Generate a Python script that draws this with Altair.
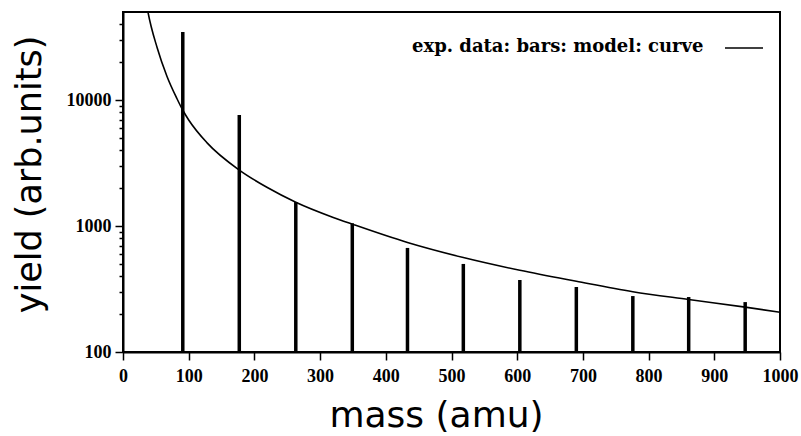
import altair as alt
import pandas as pd

# experimental data (bars)
bar_mass = [91, 177, 263, 349, 433, 518, 604, 690, 776, 861, 947]
bar_yield = [34700, 7600, 1550, 1050, 670, 500, 373, 328, 278, 273, 249]

# model curve
curve_mass = [30, 38, 52, 67, 82, 91, 100, 128, 177, 219, 263, 320, 349, 433, 518, 604, 690, 776, 861, 947, 1000]
curve_yield = [90000, 50000, 26000, 15400, 10300, 8300, 6950, 4570, 2780, 2030, 1545, 1170, 1035, 740, 562, 445, 364, 301, 261, 227, 207]

x_ticks = [0, 100, 200, 300, 400, 500, 600, 700, 800, 900, 1000]
y_ticks = [100, 1000, 10000]
y_minor = [200, 300, 400, 500, 600, 700, 800, 900,
           2000, 3000, 4000, 5000, 6000, 7000, 8000, 9000,
           20000, 30000, 40000]

x_title = "mass (amu)"
y_title = "yield (arb.units)"
legend_label = "exp. data: bars: model: curve"

bars_df = pd.DataFrame({"mass": bar_mass, "yield": bar_yield})
curve_df = pd.DataFrame({"mass": curve_mass, "yield": curve_yield})

xscale = alt.Scale(domain=[0, 1000], nice=False, zero=False)
yscale = alt.Scale(type="log", domain=[100, 50000], nice=False)

tick_font = "Liberation Serif"
title_font = "DejaVu Sans"

x_axis = alt.Axis(values=x_ticks, format="d", title=x_title, grid=False,
                  tickSize=8, tickWidth=1.5, tickColor="black",
                  domainColor="black", domainWidth=2,
                  labelFont=tick_font, labelFontWeight="bold", labelFontSize=18,
                  labelColor="black", labelPadding=7, labelFlush=False,
                  titleFont=title_font, titleFontSize=36, titleFontWeight="normal",
                  titleColor="black", titleX=313, titleY=74,
                  titleBaseline="alphabetic", titleAnchor="middle")

y_axis = alt.Axis(values=y_ticks, format="d", title=y_title, grid=False,
                  tickSize=8, tickWidth=1.5, tickColor="black",
                  domainColor="black", domainWidth=2,
                  labelFont=tick_font, labelFontWeight="bold", labelFontSize=18,
                  labelColor="black", labelPadding=4, labelFlush=False,
                  titleFont=title_font, titleFontSize=35, titleFontWeight="normal",
                  titleColor="black", titleX=-83, titleY=162,
                  titleBaseline="alphabetic", titleAngle=-90, titleAlign="center")

y_minor_axis = alt.Axis(values=y_minor, labels=False, domain=False, grid=False,
                        tickSize=4, tickWidth=1.5, tickColor="black",
                        title=None, orient="left")

bars = alt.Chart(bars_df).mark_rule(color="black", strokeWidth=3.5).encode(
    x=alt.X("mass:Q", scale=xscale, axis=x_axis),
    y=alt.Y("yield:Q", scale=yscale, axis=y_axis),
    y2=alt.datum(100),
)

curve = alt.Chart(curve_df).mark_line(
    color="black", strokeWidth=1.6, interpolate="monotone", clip=True
).encode(
    x=alt.X("mass:Q", scale=xscale),
    y=alt.Y("yield:Q", scale=yscale, axis=y_minor_axis),
)

legend_text = alt.Chart(pd.DataFrame({"t": [legend_label]})).mark_text(
    align="left", baseline="alphabetic", font="DejaVu Serif",
    fontWeight="bold", fontSize=18, color="black"
).encode(x=alt.value(289), y=alt.value(40), text="t:N")

legend_line = alt.Chart(pd.DataFrame({"t": [legend_label]})).mark_rule(
    color="black", strokeWidth=1.5
).encode(x=alt.value(602), x2=alt.value(640), y=alt.value(36))

chart = alt.layer(bars, curve, legend_text, legend_line).resolve_axis(
    y="independent"
).properties(
    width=657, height=340,
    padding={"left": 123, "top": 12, "right": 21, "bottom": 84},
    autosize=alt.AutoSizeParams(type="none"),
    background="white",
).configure_view(stroke="black", strokeWidth=2)

chart.save("out.html", embed_options={"renderer": "svg", "actions": False})
